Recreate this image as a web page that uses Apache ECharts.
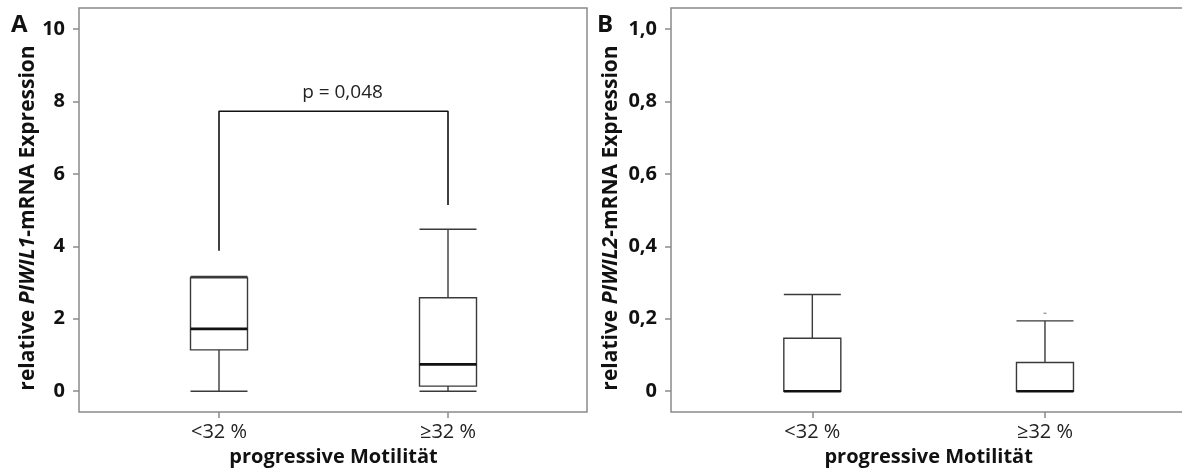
<!DOCTYPE html>
<html>
<head>
<meta charset="utf-8">
<script src="https://cdn.jsdelivr.net/npm/echarts@6/dist/echarts.min.js"></script>
<style>
  html, body { margin: 0; padding: 0; background: #fff; }
  #chart { width: 1182px; height: 468px; }
</style>
</head>
<body>
<div id="chart"></div>
<script>
// data
const categories = ['<32 %', '≥32 %'];
// [min, Q1, median, Q3, max]
const piwil1Boxes = [
  [0.0, 1.14, 1.72, 3.13, 3.17],
  [0.0, 0.14, 0.74, 2.58, 4.47]
];
const piwil2Boxes = [
  [0.0, 0.0, 0.0, 0.146, 0.267],
  [0.0, 0.0, 0.0, 0.079, 0.194]
];
const piwil2Outliers = [[1, 0.215]];
// significance bracket: left foot, top, right foot
const bracketLeft = 3.88;
const bracketTop = 7.73;
const bracketRight = 5.14;
const pText = 'p = 0,048';
const ticksA = [0, 2, 4, 6, 8, 10];
const ticksB = [0, 0.2, 0.4, 0.6, 0.8, 1.0];

const FONT = '"Open Sans", sans-serif';
const FRAME = '#8a8a8a';

const chart = echarts.init(document.getElementById('chart'));

function medianBoxes(boxes) {
  return boxes.map(b => [b[2], b[2], b[2], b[2], b[2]]);
}

function fmtB(v) {
  return v === 0 ? '0' : v.toFixed(1).replace('.', ',');
}

function valueAxis(grid, min, max, ticks, fmt, geneName, gap) {
  return {
    type: 'value', gridIndex: grid, min: min, max: max,
    axisLine: { show: false, onZero: false },
    axisTick: { show: true, length: 6, customValues: ticks, lineStyle: { color: FRAME, width: 1.5 } },
    axisLabel: {
      customValues: ticks, margin: 14, formatter: fmt,
      color: '#111', fontFamily: FONT, fontWeight: 'bold', fontSize: 20
    },
    splitLine: { show: false },
    name: '{n|relative }{i|' + geneName + '}{n|-mRNA Expression}',
    nameLocation: 'middle', nameRotate: 90, nameGap: gap,
    nameTextStyle: {
      padding: [0, 16, 0, 0],
      rich: {
        n: { fontFamily: FONT, fontWeight: 'bold', fontSize: 21, color: '#111' },
        i: { fontFamily: FONT, fontWeight: 'bold', fontStyle: 'italic', fontSize: 21, color: '#111' }
      }
    }
  };
}

function hiddenY(grid, min, max) {
  return { type: 'value', gridIndex: grid, min: min, max: max, show: false, splitLine: { show: false } };
}

function catAxis(grid) {
  return {
    type: 'category', gridIndex: grid, data: categories,
    axisLine: { show: false, onZero: false },
    axisTick: { show: true, alignWithLabel: true, length: 6, lineStyle: { color: FRAME, width: 1.5 } },
    axisLabel: { margin: 10, color: '#222', fontFamily: FONT, fontSize: 20 },
    name: 'progressive Motilität', nameLocation: 'middle', nameGap: 34,
    nameTextStyle: { fontFamily: FONT, fontWeight: 'bold', fontSize: 20, color: '#111' }
  };
}

// second, invisible category axis in the same grid so the median overlay
// is not placed beside the box
function hiddenCat(grid) {
  return { type: 'category', gridIndex: grid, data: categories, show: false, axisLine: { onZero: false } };
}

function boxSeries(xi, xMed, yi, boxes) {
  return [
    {
      type: 'boxplot', xAxisIndex: xi, yAxisIndex: yi, data: boxes,
      boxWidth: [57, 57], silent: true,
      itemStyle: { color: '#fff', borderColor: '#3a3a3a', borderWidth: 1.4 }
    },
    {
      type: 'boxplot', xAxisIndex: xMed, yAxisIndex: yi, data: medianBoxes(boxes),
      boxWidth: [57, 57], silent: true,
      itemStyle: { color: '#111', borderColor: '#111', borderWidth: 2.6 }
    }
  ];
}

const option = {
  animation: false,
  grid: [
    { left: 79, top: 8, width: 508, height: 404, show: true, borderColor: FRAME, borderWidth: 1.5, outerBoundsMode: 'none', containLabel: false },
    { left: 104.5, top: 8, width: 458, height: 404, outerBoundsMode: 'none', containLabel: false },
    { left: 671, top: 8, width: 540, height: 404, show: true, borderColor: FRAME, borderWidth: 1.5, outerBoundsMode: 'none', containLabel: false },
    { left: 696, top: 8, width: 465.3, height: 404, outerBoundsMode: 'none', containLabel: false }
  ],
  xAxis: [
    { type: 'value', gridIndex: 0, show: false },
    catAxis(1),
    { type: 'value', gridIndex: 2, show: false },
    catAxis(3),
    hiddenCat(1),
    hiddenCat(3)
  ],
  yAxis: [
    valueAxis(0, -0.575, 10.58, ticksA, v => String(v), 'PIWIL1', 40),
    hiddenY(1, -0.575, 10.58),
    valueAxis(2, -0.0575, 1.058, ticksB, fmtB, 'PIWIL2', 49),
    hiddenY(3, -0.0575, 1.058)
  ],
  series: [
    ...boxSeries(1, 4, 1, piwil1Boxes),
    ...boxSeries(3, 5, 3, piwil2Boxes),
    {
      type: 'line', xAxisIndex: 1, yAxisIndex: 1, silent: true,
      symbol: 'none',
      lineStyle: { color: '#111', width: 1.6 },
      data: [[0, bracketLeft], [0, bracketTop], [1, bracketTop], [1, bracketRight]]
    },
    {
      type: 'scatter', xAxisIndex: 3, yAxisIndex: 3, silent: true,
      symbol: 'rect', symbolSize: [3, 1.5],
      itemStyle: { color: '#888' },
      data: piwil2Outliers
    }
  ]
};
chart.setOption(option);

// panel letters and p-value label
const pL = chart.convertToPixel({ xAxisIndex: 1, yAxisIndex: 1 }, [0, bracketTop]);
const pR = chart.convertToPixel({ xAxisIndex: 1, yAxisIndex: 1 }, [1, bracketTop]);
chart.setOption({
  graphic: [
    { type: 'text', left: 11, top: 13, style: { text: 'A', fontFamily: FONT, fontWeight: 'bold', fontSize: 24, fill: '#111' } },
    { type: 'text', left: 597, top: 13, style: { text: 'B', fontFamily: FONT, fontWeight: 'bold', fontSize: 24, fill: '#111' } },
    {
      type: 'text', x: (pL[0] + pR[0]) / 2 + 9, y: pL[1] - 19,
      style: { text: pText, fontFamily: FONT, fontSize: 19, fill: '#222', align: 'center', verticalAlign: 'middle' }
    }
  ]
});
</script>
</body>
</html>
